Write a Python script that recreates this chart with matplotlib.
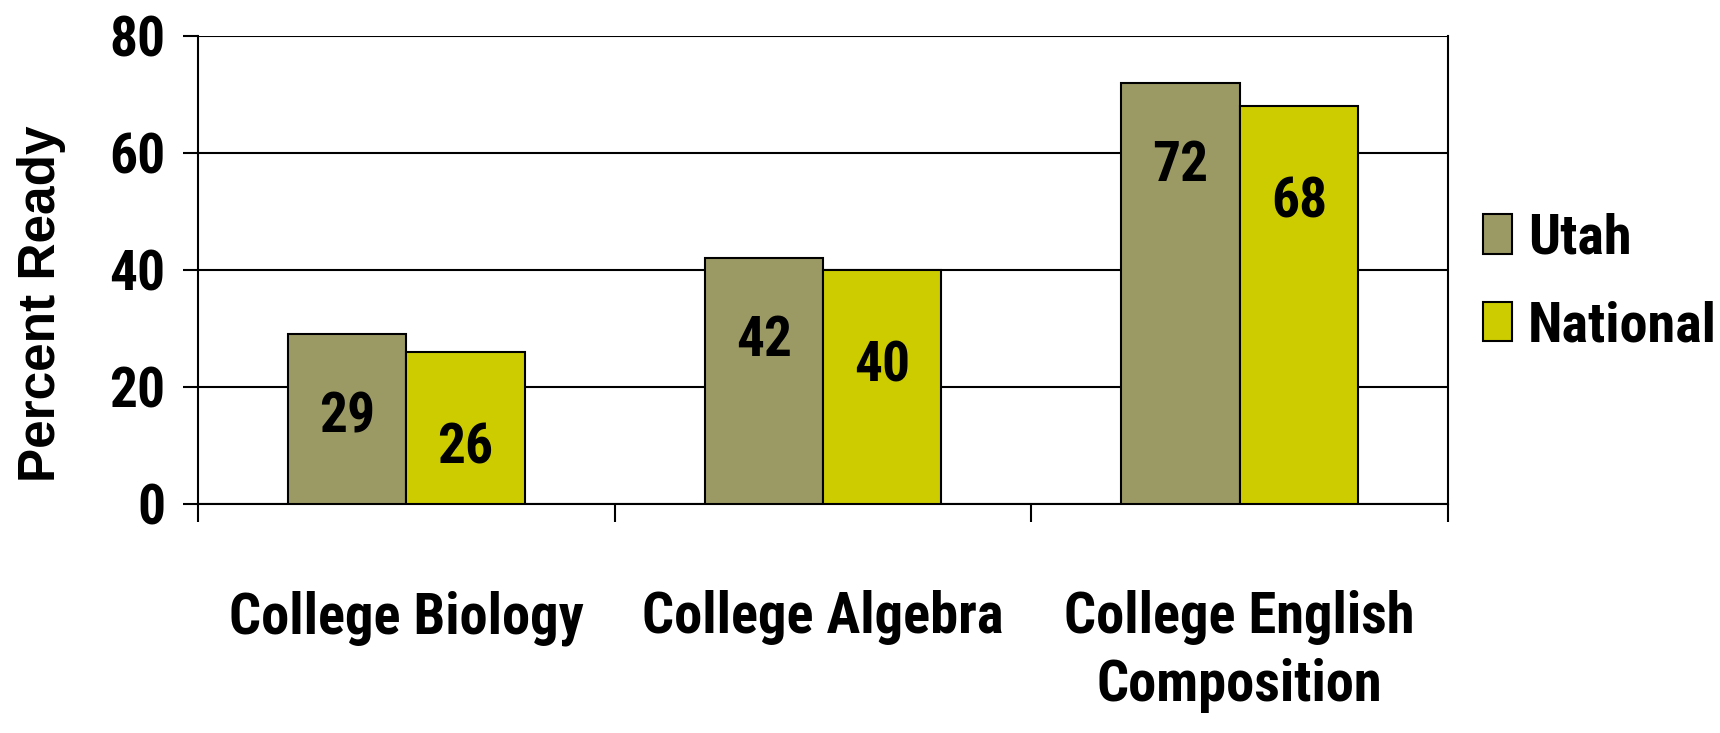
import matplotlib.pyplot as plt
import numpy as np

# data
categories = ['College Biology', 'College Algebra', 'College English\nComposition']
utah = [29, 42, 72]
national = [26, 40, 68]
series_names = ['Utah', 'National']

plt.rcParams['font.family'] = ['Roboto Condensed', 'Liberation Sans', 'DejaVu Sans']
plt.rcParams['font.weight'] = 'bold'

fig = plt.figure(figsize=(17.2, 7.33), dpi=100)
ax = fig.add_axes([0.1151, 0.3124, 0.7268, 0.6385])

x = np.arange(len(categories))
w = 0.284
c_utah = '#9C9A64'
c_nat = '#CCCC00'

b1 = ax.bar(x - w / 2, utah, w, color=c_utah, edgecolor='black', linewidth=1.5, label=series_names[0], zorder=3)
b2 = ax.bar(x + w / 2, national, w, color=c_nat, edgecolor='black', linewidth=1.5, label=series_names[1], zorder=3)

# value labels inside the bars
for xi, v in zip(x - w / 2, utah):
    ax.text(xi, v - 14.2, str(v), ha='center', va='center', fontsize=40, fontweight='bold', zorder=4)
for xi, v in zip(x + w / 2, national):
    ax.text(xi, v - 16.5, str(v), ha='center', va='center', fontsize=40, fontweight='bold', zorder=4)

ax.set_xlim(-0.5, 2.5)
ax.set_ylim(0, 80)
ax.set_yticks([0, 20, 40, 60, 80])
ax.yaxis.grid(True, color='black', linewidth=1.5, zorder=0)
ax.set_axisbelow(True)

ax.set_xticks(x)
ax.set_xticklabels(categories, fontsize=40.7, fontweight='bold', linespacing=1.3)
ax.set_xticks([-0.5, 0.5, 1.5, 2.5], minor=True)
ax.tick_params(axis='x', which='major', length=0, pad=62)
ax.tick_params(axis='x', which='minor', length=13, width=1.5, direction='out')
ax.tick_params(axis='y', length=11, width=1.5, direction='out', labelsize=40, pad=12.5)
for lab in ax.get_yticklabels():
    lab.set_fontweight('bold')

for s in ['left', 'bottom', 'right']:
    ax.spines[s].set_linewidth(1.5)
ax.spines['top'].set_visible(False)

ax.set_ylabel('Percent Ready', fontsize=37, fontweight='bold', family='Liberation Sans')
ax.yaxis.set_label_coords(-0.1056, 0.428)

fig.legend(handles=[b1, b2], loc='center left', bbox_to_anchor=(0.862, 0.6146),
           frameon=False, fontsize=40.5, handlelength=0.53, handleheight=0.71,
           handletextpad=0.27, labelspacing=0.63, borderpad=0, borderaxespad=0)
for t in fig.legends[0].get_texts():
    t.set_fontweight('bold')

plt.savefig('out.png', dpi=100)
